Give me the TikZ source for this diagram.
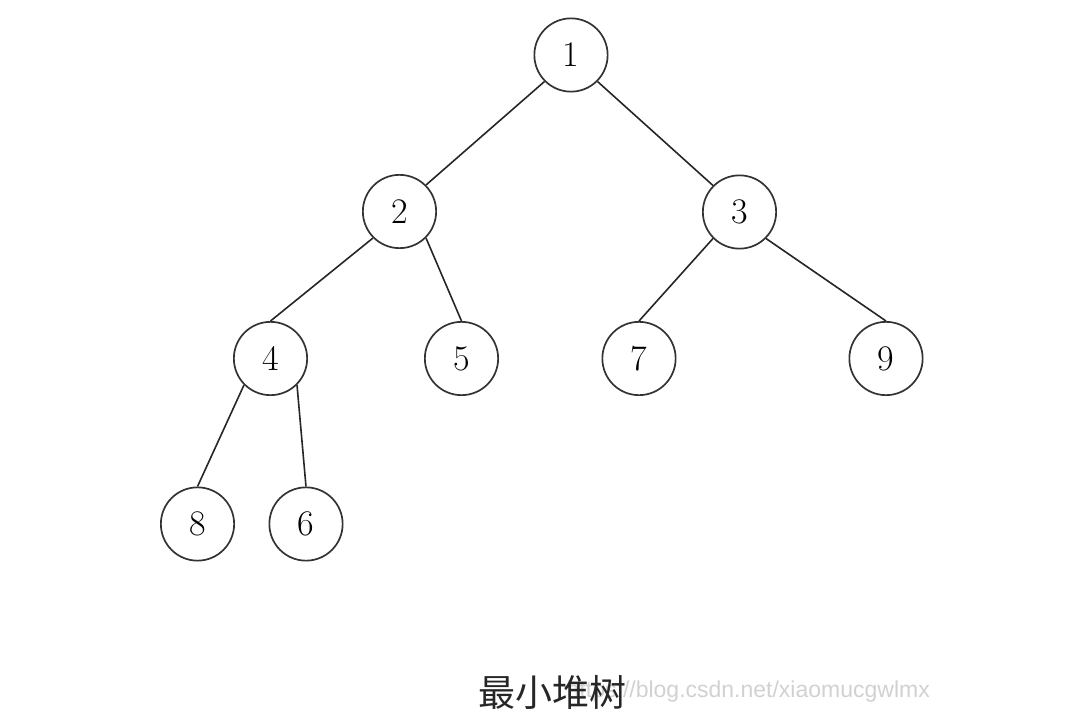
\documentclass[tikz,border=0pt]{standalone}
\usepackage{fontspec}
\newfontfamily\cjk{Noto Sans CJK SC}
\newfontfamily\wmfont{Liberation Sans}
\begin{document}
\begin{tikzpicture}[x=1pt,y=-1pt,
  treenode/.style={circle,draw=black!80,line width=1.7pt,minimum size=73.3pt,inner sep=0pt,
    font=\fontsize{36}{36}\selectfont},
  edge/.style={draw=black!85,line width=1.6pt}]
\useasboundingbox (0,0) rectangle (1072,725);
\node[treenode] (n1) at (571,55) {1};
\node[treenode] (n2) at (399.5,211.5) {2};
\node[treenode] (n3) at (739.5,212) {3};
\node[treenode] (n4) at (270.5,358.5) {4};
\node[treenode] (n5) at (461.5,358.5) {5};
\node[treenode] (n7) at (639,358.5) {7};
\node[treenode] (n9) at (886,358.5) {9};
\node[treenode] (n8) at (197.5,524) {8};
\node[treenode] (n6) at (306,524) {6};
\path[edge] (n1.south west) -- (n2.north east);
\path[edge] (n1.south east) -- (n3.north west);
\path[edge] (n2.south west) -- (n4.north);
\path[edge] (n2.south east) -- (n5.north);
\path[edge] (n3.south west) -- (n7.north);
\path[edge] (n3.south east) -- (n9.north);
\path[edge] (n4.south west) -- (n8.north);
\path[edge] (n4.south east) -- (n6.north);
\node[anchor=base east,inner sep=0pt,text=black!18,font=\wmfont\fontsize{23}{23}\selectfont] (wm) at (930,697) {https://blog.csdn.net/xiaomucgwlmx};
\node[inner sep=0pt,text=black!85,font=\cjk\fontsize{37}{37}\selectfont] (cap) at (552.5,692) {最小堆树};
\end{tikzpicture}
\end{document}
